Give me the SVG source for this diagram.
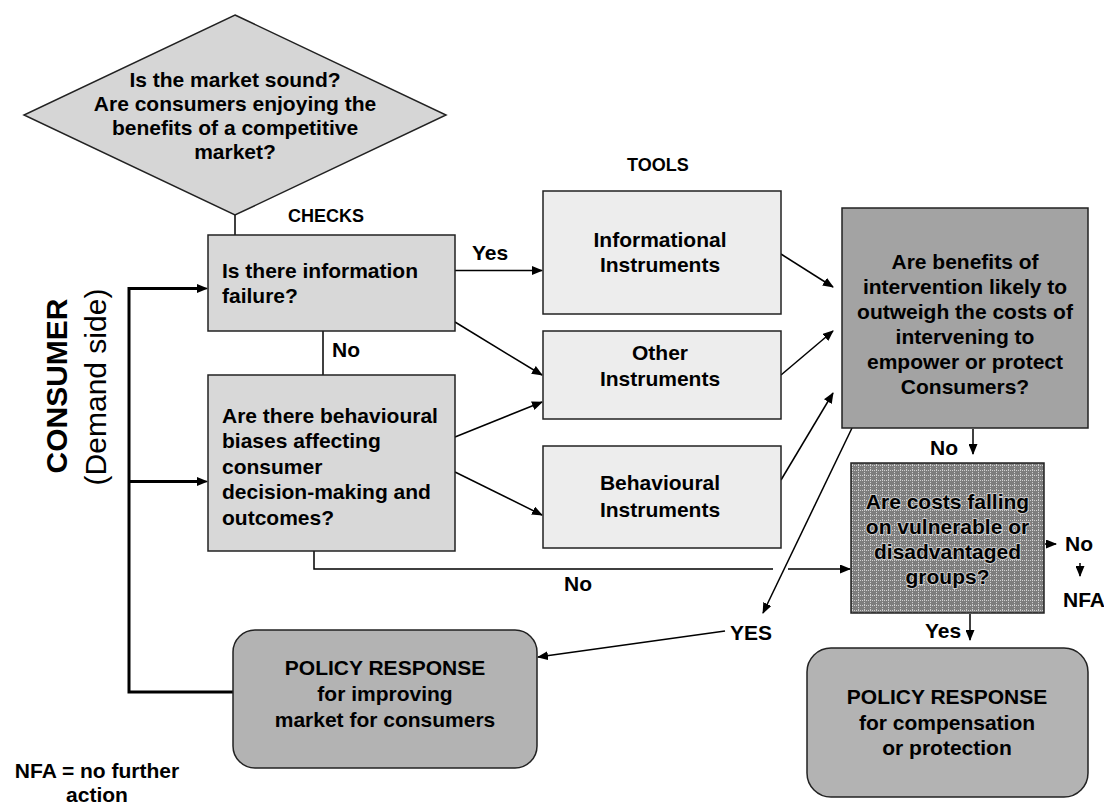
<svg xmlns="http://www.w3.org/2000/svg" width="1104" height="807" viewBox="0 0 1104 807">
<style>
text{font-family:"Liberation Sans",Arial,sans-serif;font-weight:bold;fill:#000}
.t21{font-size:21px}
.t18{font-size:18px}
.c{text-anchor:middle}
.box{stroke:#222;stroke-width:1.5}
.ln{fill:none;stroke:#000;stroke-width:1.5}
.arr{fill:none;stroke:#000;stroke-width:1.5;marker-end:url(#ah)}
.thick{fill:none;stroke:#000;stroke-width:3}
</style>
<defs>
<marker id="ah" markerUnits="userSpaceOnUse" markerWidth="11" markerHeight="9" refX="10" refY="4.5" orient="auto">
<path d="M0,0 L11,4.5 L0,9 z" fill="#000"/>
</marker>
<pattern id="grid" width="6" height="5" patternUnits="userSpaceOnUse">
<rect width="6" height="5" fill="#7e7e7e"/>
<rect x="0" y="0" width="1" height="1" fill="#cfcfcf"/>
<rect x="2" y="0" width="1" height="1" fill="#cfcfcf"/>
<rect x="4" y="0" width="1" height="1" fill="#cfcfcf"/>
<rect x="0" y="2" width="1" height="1" fill="#cfcfcf"/>
<rect x="0" y="4" width="1" height="1" fill="#cfcfcf"/>
</pattern>
</defs>
<rect width="1104" height="807" fill="#fff"/>

<g id="connectors">
<line class="ln" x1="235" y1="215" x2="235" y2="235"/>
<line class="arr" x1="455" y1="270.5" x2="542" y2="270.5"/>
<line class="arr" x1="455" y1="322" x2="542" y2="375"/>
<line class="ln" x1="323" y1="331" x2="323" y2="375"/>
<line class="arr" x1="455" y1="437" x2="542" y2="402"/>
<line class="arr" x1="455" y1="472" x2="542" y2="515"/>
<line class="arr" x1="781" y1="254" x2="833" y2="287"/>
<line class="arr" x1="781" y1="375" x2="833" y2="331"/>
<line class="arr" x1="781" y1="480" x2="833" y2="393"/>
<line class="arr" x1="852" y1="428" x2="763" y2="613"/>
<line class="arr" x1="725" y1="631" x2="538" y2="657"/>
<path class="ln" d="M314,551 V569 H773"/>
<line class="arr" x1="788" y1="569" x2="850" y2="569"/>
<line class="arr" x1="973" y1="429" x2="973" y2="454"/>
<line class="arr" x1="1045" y1="544" x2="1056" y2="544"/>
<line class="arr" x1="1080" y1="563" x2="1080" y2="576"/>
<line class="arr" x1="970" y1="614" x2="970" y2="640"/>
<path class="thick" d="M233,692 H129 V288.5 H200"/>
<line class="thick" x1="129" y1="481.5" x2="200" y2="481.5"/>
<line class="arr" x1="198" y1="288.5" x2="207" y2="288.5"/>
<line class="arr" x1="198" y1="481.5" x2="207" y2="481.5"/>
</g>

<g id="labels">
<text class="t18" x="288" y="222">CHECKS</text>
<text class="t18" x="627" y="171">TOOLS</text>
<text class="t21" x="472" y="260">Yes</text>
<text class="t21" x="332" y="357">No</text>
<text class="t21" x="564" y="591">No</text>
<text class="t21" x="730" y="640">YES</text>
<text class="t21" x="930" y="455">No</text>
<text class="t21" x="925" y="638">Yes</text>
<text class="t21" x="1065" y="551">No</text>
<text class="t21" x="1063" y="607">NFA</text>
<text class="t21 c" x="97" y="778">NFA = no further</text>
<text class="t21 c" x="97" y="802">action</text>
<text transform="translate(67,386) rotate(-90)" class="c" style="font-size:30px">CONSUMER</text>
<text transform="translate(106,387) rotate(-90)" class="c" style="font-size:30px;font-weight:normal">(Demand side)</text>
</g>

<g id="n-market">
<polygon class="box" points="235,15 446,115 235,215 24,115" fill="#d6d6d6"/>
<text class="t21 c" x="235" y="87">Is the market sound?</text>
<text class="t21 c" x="235" y="111">Are consumers enjoying the</text>
<text class="t21 c" x="235" y="135">benefits of a competitive</text>
<text class="t21 c" x="235" y="159">market?</text>
</g>

<g id="n-info-failure">
<rect class="box" x="208" y="235" width="247" height="96" fill="#d8d8d8"/>
<text class="t21" x="222" y="278">Is there information</text>
<text class="t21" x="222" y="303">failure?</text>
</g>

<g id="n-biases">
<rect class="box" x="208" y="375" width="247" height="176" fill="#d8d8d8"/>
<text class="t21" x="222" y="423">Are there behavioural</text>
<text class="t21" x="222" y="448">biases affecting</text>
<text class="t21" x="222" y="473.5">consumer</text>
<text class="t21" x="222" y="499">decision-making and</text>
<text class="t21" x="222" y="524.5">outcomes?</text>
</g>

<g id="n-informational">
<rect class="box" x="543" y="191" width="238" height="123" fill="#ededed"/>
<text class="t21 c" x="660" y="247">Informational</text>
<text class="t21 c" x="660" y="272">Instruments</text>
</g>

<g id="n-other">
<rect class="box" x="543" y="331" width="238" height="88" fill="#ededed"/>
<text class="t21 c" x="660" y="360">Other</text>
<text class="t21 c" x="660" y="386">Instruments</text>
</g>

<g id="n-behavioural">
<rect class="box" x="543" y="446" width="238" height="102" fill="#ededed"/>
<text class="t21 c" x="660" y="490">Behavioural</text>
<text class="t21 c" x="660" y="517">Instruments</text>
</g>

<g id="n-benefits">
<rect class="box" x="842" y="208" width="246" height="220" fill="#a3a3a3"/>
<text class="t21 c" x="965" y="269">Are benefits of</text>
<text class="t21 c" x="965" y="294">intervention likely to</text>
<text class="t21 c" x="965" y="319">outweigh the costs of</text>
<text class="t21 c" x="965" y="344">intervening to</text>
<text class="t21 c" x="965" y="369">empower or protect</text>
<text class="t21 c" x="965" y="394">Consumers?</text>
</g>

<g id="n-vulnerable">
<rect class="box" x="851" y="463" width="193" height="150" fill="url(#grid)"/>
<g style="paint-order:stroke;stroke:#c8c8c8;stroke-width:2;stroke-linejoin:round">
<text class="t21 c" x="947.5" y="509">Are costs falling</text>
<text class="t21 c" x="947.5" y="534">on vulnerable or</text>
<text class="t21 c" x="947.5" y="559">disadvantaged</text>
<text class="t21 c" x="947.5" y="584">groups?</text>
</g>
</g>

<g id="n-policy-improve">
<rect class="box" x="233" y="630" width="304" height="138" rx="22" ry="22" fill="#b3b3b3"/>
<text class="t21 c" x="385" y="675">POLICY RESPONSE</text>
<text class="t21 c" x="385" y="701">for improving</text>
<text class="t21 c" x="385" y="727">market for consumers</text>
</g>

<g id="n-policy-comp">
<rect class="box" x="807" y="648" width="281" height="149" rx="24" ry="24" fill="#b3b3b3"/>
<text class="t21 c" x="947" y="704">POLICY RESPONSE</text>
<text class="t21 c" x="947" y="730">for compensation</text>
<text class="t21 c" x="947" y="755">or protection</text>
</g>
</svg>
